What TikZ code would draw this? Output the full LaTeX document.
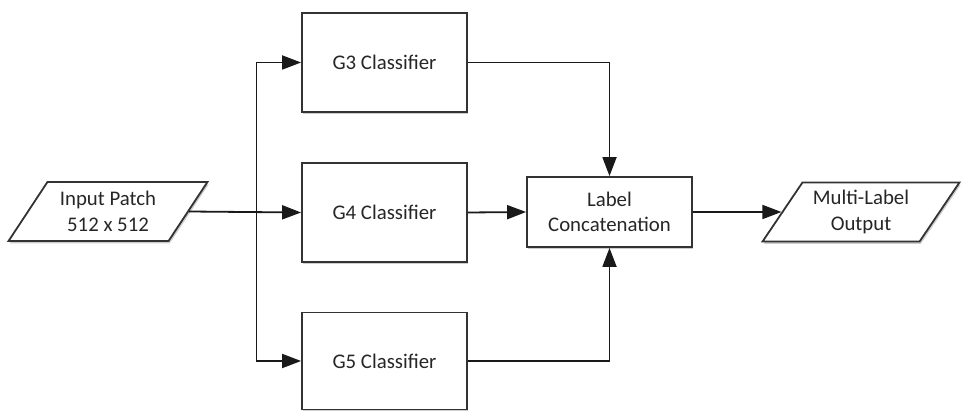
\documentclass[tikz,border=0pt]{standalone}
\usepackage{fontspec}
\setmainfont{Carlito}
\usetikzlibrary{arrows.meta,shapes.geometric,shadows}

\begin{document}
\begin{tikzpicture}[x=0.5pt, y=-0.5pt,
	classbox/.style={draw=black!80, fill=white, line width=0.9pt, minimum width=82.5pt,
		align=center, text=black!85, font=\fontsize{10.4}{12.8}\selectfont,
		drop shadow={shadow xshift=0.6pt, shadow yshift=-1.2pt, fill=black!40, opacity=0.5}},
	iobox/.style={classbox, trapezium, trapezium left angle=60, trapezium right angle=120,
		trapezium stretches=true, minimum height=29.5pt, inner xsep=0pt},
	flow/.style={-{Triangle[length=9.5pt, width=7pt]}, black!90, line width=0.9pt}]
	\useasboundingbox (0,0) rectangle (963,411);
	
	\node[iobox, minimum width=100pt] (inp) at (108, 211.5) {Input Patch\\512 x 512};
	\node[classbox, minimum height=49.5pt] (gthree) at (384.5, 62.5) {G3 Classifier};
	\node[classbox, minimum height=49.5pt] (gfour) at (384.5, 212.5) {G4 Classifier};
	\node[classbox, minimum height=48.5pt] (gfive) at (384.5, 361) {G5 Classifier};
	\node[classbox, minimum height=35pt] (concat) at (609.5, 212) {Label\\Concatenation};
	\node[iobox, minimum width=99pt] (outp) at (861, 212) {Multi-Label\\Output};
	
	\coordinate (split) at (256.5, 212);
	
	\draw[flow] (inp.east) -- (gfour.west);
	\draw[flow] (split) |- (gthree.west);
	\draw[flow] (split) |- (gfive.west);
	\draw[flow] (gthree.east) -| (concat.north);
	\draw[flow] (gfive.east) -| (concat.south);
	\draw[flow] (gfour.east) -- (concat.west);
	\draw[flow] (concat.east) -- (outp.west);
\end{tikzpicture}
\end{document}
